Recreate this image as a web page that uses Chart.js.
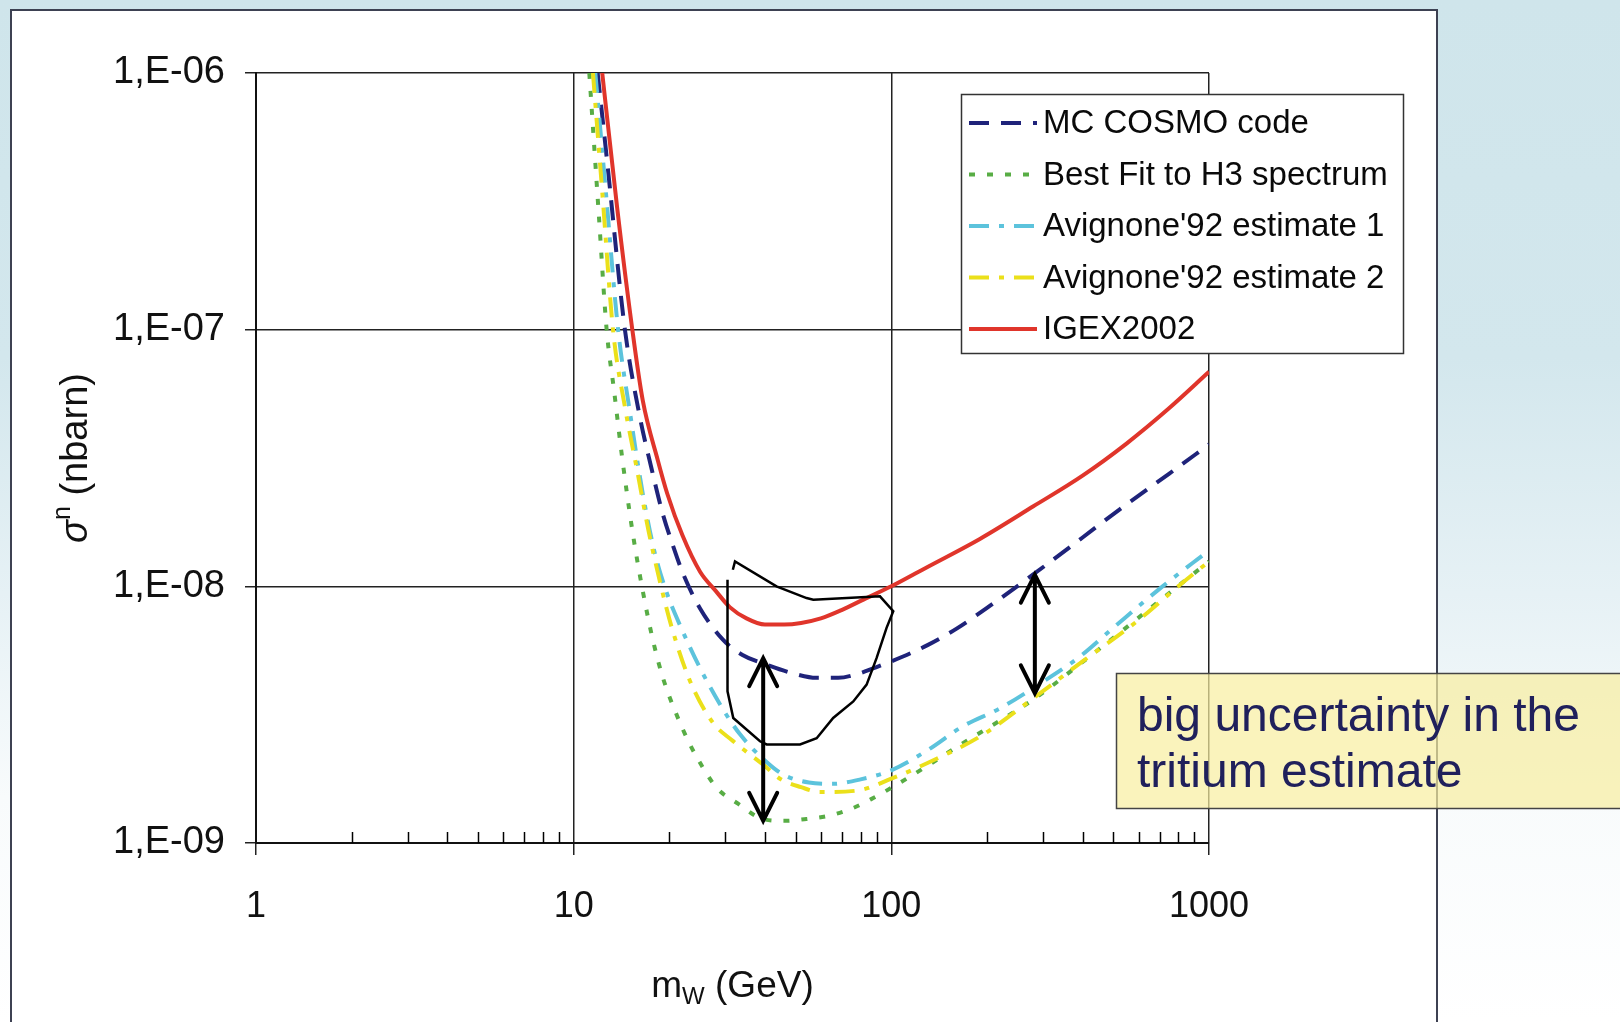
<!DOCTYPE html>
<html>
<head>
<meta charset="utf-8">
<script src="https://cdn.jsdelivr.net/npm/chart.js@4.4.1/dist/chart.umd.min.js"></script>
<style>
    html, body { margin: 0; padding: 0; }
    body {
        width: 1620px; height: 1022px; overflow: hidden; position: relative;
        background: linear-gradient(to bottom, #cfe5eb 0%, #d3e7ed 35%, #e6f1f5 58%, #f8fbfc 78%, #ffffff 100%);
    }
    #panel {
        position: absolute; left: 10px; top: 9px; width: 1424px; height: 1040px;
        background: #fff; border: 2px solid #3d4152;
    }
    #chart { position: absolute; left: 0; top: 0; }
</style>
</head>
<body>
<div id="panel"></div>
<canvas id="chart" width="1620" height="1022"></canvas>
<script>
// --- Data ---
const X_TICKS = [1, 10, 100, 1000];
const X_LABELS = ['1', '10', '100', '1000'];
const Y_TICKS = [1e-9, 1e-8, 1e-7, 1e-6];
const Y_LABELS = ['1,E-09', '1,E-08', '1,E-07', '1,E-06'];

const cosmoX = [11.9, 12.8, 14.5, 16.2, 17.5, 19, 20.5, 22.1, 25, 29.5, 34, 40.6, 50, 58, 68, 78, 88, 100, 130, 161, 210, 279, 400, 525, 750, 1000];
const cosmoY = [1e-6, 4.3e-7, 1e-7, 4.5e-8, 2.95e-8, 1.95e-8, 1.45e-8, 1.12e-8, 8.2e-9, 6.2e-9, 5.4e-9, 4.95e-9, 4.55e-9, 4.4e-9, 4.4e-9, 4.55e-9, 4.8e-9, 5.1e-9, 5.9e-9, 6.86e-9, 8.6e-9, 1.11e-8, 1.55e-8, 2.0e-8, 2.75e-8, 3.57e-8];

const fitX = [11.2, 12.0, 12.7, 13.4, 14.2, 15.3, 16.5, 17.8, 19.1, 21, 23.2, 25.5, 28.2, 33, 39.4, 46, 54, 64, 76, 88, 100, 130, 168, 220, 287, 390, 500, 700, 1000];
const fitY = [1e-6, 2.8e-7, 1e-7, 5.8e-8, 3.2e-8, 1.65e-8, 9.6e-9, 6.1e-9, 4.4e-9, 3.2e-9, 2.43e-9, 1.97e-9, 1.64e-9, 1.42e-9, 1.24e-9, 1.22e-9, 1.24e-9, 1.28e-9, 1.37e-9, 1.5e-9, 1.64e-9, 2.0e-9, 2.45e-9, 3.0e-9, 3.7e-9, 4.95e-9, 6.3e-9, 8.8e-9, 1.25e-8];

const av1X = [11.7, 12.6, 13.8, 15.0, 16.5, 18, 19.6, 21.9, 25, 29.6, 33.4, 39.9, 45.6, 55, 65, 80, 100, 130, 168, 220, 287, 390, 500, 700, 1000];
const av1Y = [1e-6, 3.55e-7, 1e-7, 4.86e-8, 2.3e-8, 1.35e-8, 9.5e-9, 6.8e-9, 4.8e-9, 3.3e-9, 2.65e-9, 2.1e-9, 1.85e-9, 1.72e-9, 1.7e-9, 1.77e-9, 1.92e-9, 2.3e-9, 2.85e-9, 3.35e-9, 4.1e-9, 5.3e-9, 6.9e-9, 9.8e-9, 1.38e-8];

const av2X = [11.5, 12.3, 13.3, 14.5, 15.8, 17.2, 18.7, 20.3, 23.2, 27.4, 31.7, 39.9, 44.6, 52, 59.6, 78, 100, 130, 192, 287, 400, 593, 800, 1000];
const av2Y = [1e-6, 3.45e-7, 1e-7, 5e-8, 2.88e-8, 1.65e-8, 1.04e-8, 7.0e-9, 4.3e-9, 2.95e-9, 2.5e-9, 2.0e-9, 1.78e-9, 1.65e-9, 1.58e-9, 1.6e-9, 1.78e-9, 2.05e-9, 2.62e-9, 3.75e-9, 5.1e-9, 7.3e-9, 1.0e-8, 1.25e-8];

const igexX = [12.3, 13.7, 15.3, 16.5, 18.4, 19.7, 22, 25, 28, 31, 35, 40, 46, 52, 60, 70, 82, 100, 130, 190, 280, 400, 550, 750, 1000];
const igexY = [1e-6, 3.0e-7, 1e-7, 5.3e-8, 3.1e-8, 2.3e-8, 1.58e-8, 1.14e-8, 9.6e-9, 8.3e-9, 7.5e-9, 7.1e-9, 7.1e-9, 7.2e-9, 7.5e-9, 8.1e-9, 8.9e-9, 1.0e-8, 1.19e-8, 1.53e-8, 2.05e-8, 2.7e-8, 3.6e-8, 4.95e-8, 6.85e-8];

// hand-drawn region (black outline)
const regionX = [30.5, 30.5, 31.8, 38.6, 40.5, 51.6, 58.2, 65.6, 75.9, 83.6, 89.9, 96.6, 101.4, 92.1, 56.8, 54.1, 43.5, 32.2, 31.7];
const regionY = [1.06e-8, 3.9e-9, 3.07e-9, 2.49e-9, 2.42e-9, 2.42e-9, 2.56e-9, 3.07e-9, 3.56e-9, 4.14e-9, 5.26e-9, 6.89e-9, 8.0e-9, 9.14e-9, 8.87e-9, 9.0e-9, 1.0e-8, 1.25e-8, 1.16e-8];

// double arrows
const arrowX = [39.5, 283];
const arrowTop = [5.25e-9, 1.11e-8];
const arrowBottom = [1.22e-9, 3.83e-9];

const NOTE_LINES = ['big uncertainty in the', 'tritium estimate'];

const SERIES = [
    { label: 'MC COSMO code', x: cosmoX, y: cosmoY, color: '#1f237a', dash: [20, 12] },
    { label: 'Best Fit to H3 spectrum', x: fitX, y: fitY, color: '#58ad45', dash: [6, 12] },
    { label: "Avignone'92 estimate 1", x: av1X, y: av1Y, color: '#5cc3dc', dash: [20, 10, 5, 10] },
    { label: "Avignone'92 estimate 2", x: av2X, y: av2Y, color: '#ebe01a', dash: [20, 10, 5, 10] },
    { label: 'IGEX2002', x: igexX, y: igexY, color: '#e0352b', dash: [] }
];

// --- Helpers ---
const FONT = "'Liberation Sans', Arial, sans-serif";
const toPoints = (xs, ys) => xs.map((x, i) => ({ x, y: ys[i] }));
const isMajor = v => X_TICKS.includes(v);

const xTickValues = [];
[1, 10, 100].forEach(d => { for (let k = 1; k < 10; k++) xTickValues.push(k * d); });
xTickValues.push(1000);

// --- Datasets ---
const datasets = SERIES.map((s, i) => ({
    label: s.label,
    data: toPoints(s.x, s.y),
    borderColor: s.color,
    borderWidth: 4,
    borderDash: s.dash,
    pointRadius: 0,
    cubicInterpolationMode: 'monotone',
    fill: false,
    order: 5 - i
}));
datasets.push({
    label: 'region',
    data: toPoints(regionX, regionY),
    borderColor: '#000',
    borderWidth: 2.5,
    pointRadius: 0,
    tension: 0,
    fill: false,
    order: 0
});

// --- Overlay drawing (minor ticks, arrows, legend, note, axis titles) ---
const overlay = {
    id: 'overlay',
    afterDatasetsDraw(chart) {
        const ctx = chart.ctx;
        const xs = chart.scales.x, ys = chart.scales.y;
        const bottom = chart.chartArea.bottom;
        ctx.save();

        // minor x ticks, pointing into the plot
        ctx.strokeStyle = '#000';
        ctx.lineWidth = 1.5;
        xTickValues.filter(v => !isMajor(v)).forEach(v => {
            const px = Math.round(xs.getPixelForValue(v)) + 0.5;
            ctx.beginPath();
            ctx.moveTo(px, bottom);
            ctx.lineTo(px, bottom - 11);
            ctx.stroke();
        });

        // double-headed arrows
        ctx.lineWidth = 4;
        ctx.lineCap = 'round';
        arrowX.forEach((v, i) => {
            const px = xs.getPixelForValue(v);
            const yt = ys.getPixelForValue(arrowTop[i]);
            const yb = ys.getPixelForValue(arrowBottom[i]);
            ctx.beginPath();
            ctx.moveTo(px, yt);
            ctx.lineTo(px, yb);
            ctx.moveTo(px - 14, yt + 28);
            ctx.lineTo(px, yt);
            ctx.lineTo(px + 14, yt + 28);
            ctx.moveTo(px - 14, yb - 28);
            ctx.lineTo(px, yb);
            ctx.lineTo(px + 14, yb - 28);
            ctx.stroke();
        });
        ctx.restore();
    },
    afterDraw(chart) {
        const ctx = chart.ctx;
        const area = chart.chartArea;
        ctx.save();

        // legend box
        ctx.fillStyle = '#fff';
        ctx.fillRect(961, 94, 442, 259);
        ctx.strokeStyle = '#333';
        ctx.lineWidth = 1.5;
        ctx.strokeRect(961.5, 94.5, 442, 259);
        ctx.font = '33px ' + FONT;
        ctx.textBaseline = 'middle';
        SERIES.forEach((s, i) => {
            const cy = 123 + i * 51.5;
            ctx.strokeStyle = s.color;
            ctx.lineWidth = 4;
            ctx.setLineDash(s.dash);
            ctx.beginPath();
            ctx.moveTo(969, cy);
            ctx.lineTo(1037, cy);
            ctx.stroke();
            ctx.setLineDash([]);
            ctx.fillStyle = '#0a0a0a';
            ctx.fillText(s.label, 1043, cy + 1);
        });

        // note box
        ctx.fillStyle = 'rgba(248, 238, 160, 0.7)';
        ctx.fillRect(1116, 673, 510, 136);
        ctx.strokeStyle = '#444';
        ctx.lineWidth = 1.5;
        ctx.strokeRect(1116.5, 673.5, 510, 135);
        ctx.fillStyle = '#20205c';
        ctx.font = '48px ' + FONT;
        ctx.textBaseline = 'alphabetic';
        NOTE_LINES.forEach((t, i) => ctx.fillText(t, 1137, 731 + i * 56));

        // x axis title: m_W (GeV)
        ctx.fillStyle = '#111';
        const cx = (area.left + area.right) / 2;
        ctx.font = '37px ' + FONT;
        const wM = ctx.measureText('m').width;
        const wRest = ctx.measureText(' (GeV)').width;
        ctx.font = '24px ' + FONT;
        const wSub = ctx.measureText('W').width;
        let x0 = cx - (wM + wSub + wRest) / 2;
        const base = 997;
        ctx.font = '37px ' + FONT;
        ctx.fillText('m', x0, base);
        ctx.font = '24px ' + FONT;
        ctx.fillText('W', x0 + wM, base + 7);
        ctx.font = '37px ' + FONT;
        ctx.fillText(' (GeV)', x0 + wM + wSub, base);

        // y axis title: sigma^n (nbarn)
        const cyT = (area.top + area.bottom) / 2;
        ctx.translate(87, cyT);
        ctx.rotate(-Math.PI / 2);
        ctx.font = 'italic 38px ' + FONT;
        const wS = ctx.measureText('σ').width;
        ctx.font = '25px ' + FONT;
        const wN = ctx.measureText('n').width;
        ctx.font = '38px ' + FONT;
        const wB = ctx.measureText(' (nbarn)').width;
        x0 = -(wS + wN + wB) / 2;
        ctx.font = 'italic 38px ' + FONT;
        ctx.fillText('σ', x0, 0);
        ctx.font = '25px ' + FONT;
        ctx.fillText('n', x0 + wS, -17);
        ctx.font = '38px ' + FONT;
        ctx.fillText(' (nbarn)', x0 + wS + wN, 0);

        ctx.restore();
    }
};

// --- Chart ---
new Chart(document.getElementById('chart').getContext('2d'), {
    type: 'line',
    data: { datasets },
    options: {
        responsive: false,
        animation: false,
        devicePixelRatio: 1,
        layout: { padding: { left: 0, top: 73, right: 411, bottom: 0 } },
        plugins: { legend: { display: false }, tooltip: { enabled: false } },
        scales: {
            x: {
                type: 'logarithmic',
                min: 1,
                max: 1000,
                afterBuildTicks: scale => { scale.ticks = xTickValues.map(v => ({ value: v, major: isMajor(v) })); },
                afterFit: scale => { scale.height = 179; },
                ticks: {
                    autoSkip: false,
                    maxRotation: 0,
                    padding: 30,
                    color: '#111',
                    font: { family: FONT, size: 36 },
                    callback: v => (isMajor(v) ? X_LABELS[X_TICKS.indexOf(v)] : '')
                },
                grid: {
                    color: ctx => (ctx.tick && isMajor(ctx.tick.value) ? '#222' : 'rgba(0,0,0,0)'),
                    lineWidth: 1.5,
                    tickLength: 12
                },
                border: { color: '#111', width: 2 }
            },
            y: {
                type: 'logarithmic',
                min: 1e-9,
                max: 1e-6,
                afterBuildTicks: scale => { scale.ticks = Y_TICKS.map(v => ({ value: v })); },
                afterFit: scale => { scale.width = 256; },
                ticks: {
                    padding: 20,
                    color: '#111',
                    font: { family: FONT, size: 38 },
                    callback: (v, i) => Y_LABELS[i]
                },
                grid: { color: '#222', lineWidth: 1.5, tickLength: 11 },
                border: { color: '#111', width: 2 }
            }
        }
    },
    plugins: [overlay]
});
</script>
</body>
</html>
